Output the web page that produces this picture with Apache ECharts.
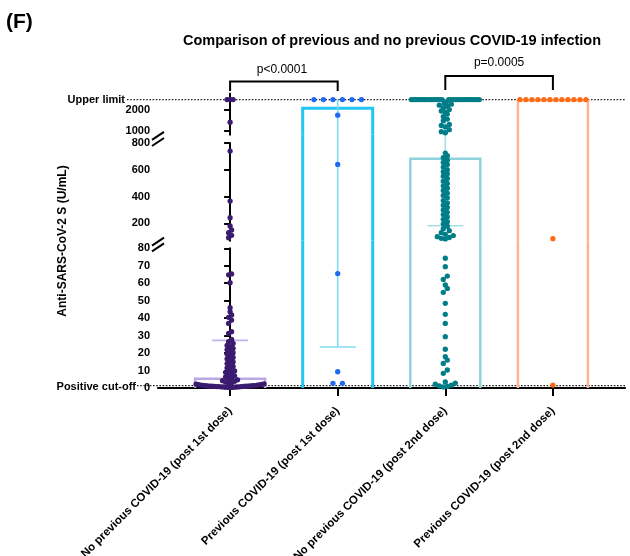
<!DOCTYPE html>
<html><head><meta charset="utf-8">
<script src="https://cdn.jsdelivr.net/npm/echarts@6/dist/echarts.min.js"></script>
<style>html,body{margin:0;padding:0;background:#fff}#c{width:630px;height:556px}</style>
</head><body><div id="c"></div>
<script>
// ---------------- DATA ----------------
const categories = [
  'No previous COVID-19 (post 1st dose)',
  'Previous COVID-19 (post 1st dose)',
  'No previous COVID-19 (post 2nd dose)',
  'Previous COVID-19 (post 2nd dose)'
];
const barValues = [5.3, 2082, 683, 2460];
const errLow = [0, 23.5, 182, null];
const errHigh = [27.3, 2500, 2500, null];
const upperLimit = 2500;
const positiveCutoff = 0.8;
const pValues = ['p<0.0001', 'p=0.0005'];
const bottomTicks = [0, 10, 20, 30, 40, 50, 60, 70, 80];
const middleTicks = [200, 400, 600, 800];
const topTicks = [1000, 2000];

const noPrev1st = [2500, 2500, 2500, 1406,
  740, 366, 242, 180, 150, 130, 110, 92,
  65.3, 64.8, 60.3, 46.0, 43.7, 41.8, 40.5, 38.9, 37.0, 32.2, 31.3, 27.8, 26.6, 25.5, 24.4, 23.6, 22.7, 21.9,
  21.0, 20.2, 19.3, 18.4, 17.5, 16.6, 15.8, 14.9, 14.0, 13.1, 12.3, 11.5, 10.6, 9.8, 9.0, 8.3, 7.6, 7.0, 6.4,
  5.8, 5.2, 4.7, 4.2, 3.8, 3.4, 3.0, 2.7, 2.4, 2.2, 2.0, 1.9, 1.8, 1.7, 1.6, 1.5, 1.4, 1.3, 1.3, 1.2, 1.2,
  1.1, 1.1, 1.0, 1.0, 0.9, 0.9, 0.8, 0.8, 0.8, 0.7, 0.7, 0.6, 0.6, 0.5, 0.5, 0.4, 0.4, 0.3];
const prev1st = [2500, 2500, 2500, 2500, 2500, 2500, 1750, 640, 65.5, 9.3, 2.7, 2.7];
const noPrev2nd = [
  2500, 2500, 2500, 2500, 2500, 2500, 2500, 2500, 2500, 2500, 2500, 2500, 2500, 2500, 2500,
  2500, 2500, 2500, 2500, 2500, 2500, 2500, 2500, 2500, 2500, 2500, 2500, 2500, 2500, 2500,
  2380, 2330, 2280, 2230, 2180, 2100, 2020, 1950, 1880, 1800, 1680, 1560, 1480, 1300, 1250, 1180, 1050, 950, 900,
  725, 705, 690, 672, 655, 640, 620, 600, 585, 570, 552, 535, 515, 498, 480, 462, 445, 425, 408, 390, 370,
  352, 335, 318, 300, 282, 265, 248, 230, 212, 195, 178, 160, 145, 130, 118, 108, 100, 94, 88, 83,
  74.3, 69.5, 64.1, 62.2, 59.0, 57.0, 54.8, 48.5, 42.2, 37.0, 29.4, 22.2, 17.9, 16.0, 14.1, 10.3, 8.4,
  3.5, 2.8, 2.2, 1.6, 1.2, 0.9, 0.6];
const prev2nd = [2500, 2500, 2500, 2500, 2500, 2500, 2500, 2500, 2500, 2500, 2500, 2500, 85, 1.7];
const groups = [noPrev1st, prev1st, noPrev2nd, prev2nd];

// ---------------- STYLE / LAYOUT ----------------
const FONT = '"Liberation Sans", Arial, Helvetica, sans-serif';
const dotColors = ['#3b1b6f', '#1f6af5', '#007d87', '#ff6a13'];
const barColors = ['#b9a8e4', '#21c6f2', '#8fd4dd', '#ffb294'];
const errColors = ['#c3b3ec', '#7fdcf5', '#a6dfe6', '#ffc2a8'];
const dotGap = [3, 9.5, 4, 6];
const segRange = [[0, 80], [70, 800], [800, 2800]];
const gridBox = [{top: 248.3, height: 139.7}, {top: 143, height: 97.7}, {top: 93.4, height: 41.4}];
const segTicks = [bottomTicks, middleTicks, topTicks];
const X_MIN = -0.67, X_MAX = 3.67;
const BAR_HALF = 35, CAP_HALF = 18, MAX_SPREAD = 68, ROW_H = 4;

function segOf(v) { return v <= 80 ? 0 : (v <= 800 ? 1 : 2); }
function nextBottomPx(s) { return gridBox[s + 1].top + gridBox[s + 1].height; }

const chart = echarts.init(document.getElementById('c'));

const grids = gridBox.map(b => ({left: 158, right: 5, top: b.top, height: b.height, containLabel: false, outerBoundsMode: 'none'}));
const xAxes = [0, 1, 2].map(s => ({
  type: 'value', gridIndex: s, min: X_MIN, max: X_MAX, show: s === 0,
  axisLine: {show: true, onZero: false, lineStyle: {color: '#000', width: 2.2}},
  axisTick: {show: true, customValues: [0, 1, 2, 3], length: 8, lineStyle: {color: '#000', width: 2}},
  axisLabel: {customValues: [0, 1, 2, 3], formatter: v => categories[Math.round(v)] || '', rotate: 45,
    fontWeight: 'bold', fontSize: 11.5, color: '#000', margin: 21, fontFamily: FONT},
  splitLine: {show: false}
}));
const yAxes = [0, 1, 2].map(s => ({
  type: 'value', gridIndex: s, min: segRange[s][0], max: segRange[s][1],
  axisLine: {show: true, lineStyle: {color: '#000', width: 2}},
  axisTick: {show: true, customValues: segTicks[s], length: 6, lineStyle: {color: '#000', width: 2}},
  axisLabel: {customValues: segTicks[s], formatter: v => String(v), fontWeight: 'bold', fontSize: 11, color: '#000', margin: 8, fontFamily: FONT},
  splitLine: {show: false}
}));

function barRender(s) {
  return function (params, api) {
    const k = api.value(0), m = api.value(1);
    const lo = segRange[s][0], hi = segRange[s][1];
    if (m <= lo && s > 0) return null;
    const pB = api.coord([k, lo]);
    const pT = api.coord([k, Math.min(m, hi)]);
    const x = pB[0];
    const st = {stroke: barColors[k], lineWidth: k === 1 ? 3 : 2.5, fill: null};
    if (m <= hi) {
      return {type: 'polyline', shape: {points: [[x - BAR_HALF, pB[1]], [x - BAR_HALF, pT[1]], [x + BAR_HALF, pT[1]], [x + BAR_HALF, pB[1]]]}, style: st};
    }
    const yTop = s < 2 ? nextBottomPx(s) : pT[1];
    return {type: 'group', children: [
      {type: 'line', shape: {x1: x - BAR_HALF, y1: pB[1], x2: x - BAR_HALF, y2: yTop}, style: st},
      {type: 'line', shape: {x1: x + BAR_HALF, y1: pB[1], x2: x + BAR_HALF, y2: yTop}, style: st}
    ]};
  };
}
function errRender(s) {
  return function (params, api) {
    const k = api.value(0), low = api.value(1), high = api.value(2);
    if (isNaN(low) || isNaN(high)) return null;
    const lo = segRange[s][0], hi = segRange[s][1];
    const a = Math.max(low, lo), b = Math.min(high, hi);
    if (a >= b) return null;
    const pA = api.coord([k, a]), pB = api.coord([k, b]);
    const x = pA[0];
    let yB = pB[1];
    if (high > hi && s < 2) yB = nextBottomPx(s);
    const st = {stroke: errColors[k], lineWidth: 1.6};
    const ch = [{type: 'line', shape: {x1: x, y1: pA[1], x2: x, y2: yB}, style: st}];
    if (low >= lo && low <= hi && low > 0) ch.push({type: 'line', shape: {x1: x - CAP_HALF, y1: pA[1], x2: x + CAP_HALF, y2: pA[1]}, style: st});
    if (high >= lo && high <= hi && high < upperLimit) ch.push({type: 'line', shape: {x1: x - CAP_HALF, y1: pB[1], x2: x + CAP_HALF, y2: pB[1]}, style: st});
    return {type: 'group', children: ch};
  };
}

const baseSeries = [];
[0, 1, 2].forEach(s => {
  baseSeries.push({type: 'custom', xAxisIndex: s, yAxisIndex: s, silent: true, z: 2,
    data: barValues.map((v, k) => [k, v]), renderItem: barRender(s)});
  baseSeries.push({type: 'custom', xAxisIndex: s, yAxisIndex: s, silent: true, z: 3,
    data: barValues.map((v, k) => [k, errLow[k] === null ? '-' : errLow[k], errHigh[k] === null ? '-' : errHigh[k]]),
    renderItem: errRender(s)});
});

chart.setOption({animation: false, grid: grids, xAxis: xAxes, yAxis: yAxes, series: baseSeries});

// ---- beeswarm layout computed from pixel positions given by the axes ----
const pxPerUnit = chart.convertToPixel({xAxisIndex: 0}, 1) - chart.convertToPixel({xAxisIndex: 0}, 0);
function swarm(values, k) {
  const out = [[], [], []];
  const pts = values.map(v => { const s = segOf(v); return {v, s, py: chart.convertToPixel({yAxisIndex: s}, v)}; });
  [0, 1, 2].forEach(s => {
    const arr = pts.filter(p => p.s === s).sort((a, b) => b.py - a.py);
    let i = 0;
    while (i < arr.length) {
      let j = i;
      while (j + 1 < arr.length && arr[i].py - arr[j + 1].py < ROW_H) j++;
      const n = j - i + 1;
      const g = n > 1 ? Math.min(dotGap[k], MAX_SPREAD / (n - 1)) : 0;
      const slots = [];
      for (let t = 0; t < n; t++) slots.push(t);
      const mid = (n - 1) / 2;
      slots.sort((a, b) => Math.abs(a - mid) - Math.abs(b - mid) || a - b);
      for (let t = 0; t < n; t++) {
        const off = (slots[t] - mid) * g;
        out[s].push([k + off / pxPerUnit, arr[i + t].v]);
      }
      i = j + 1;
    }
  });
  return out;
}
const scatterSeries = [];
groups.forEach((vals, k) => {
  const sw = swarm(vals, k);
  [0, 1, 2].forEach(s => {
    scatterSeries.push({type: 'scatter', xAxisIndex: s, yAxisIndex: s, z: 5, symbolSize: 5.3, silent: true,
      clip: false, itemStyle: {color: dotColors[k], opacity: 1}, data: sw[s]});
  });
});

// ---- annotations positioned from the axes ----
const yUL = chart.convertToPixel({yAxisIndex: 2}, upperLimit);
const yCut = chart.convertToPixel({yAxisIndex: 0}, positiveCutoff);
const cx = [0, 1, 2, 3].map(k => chart.convertToPixel({xAxisIndex: 0}, k));
const axisX = chart.convertToPixel({xAxisIndex: 0}, X_MIN);
const rightX = chart.convertToPixel({xAxisIndex: 0}, X_MAX);
const dotted = {stroke: '#222', lineWidth: 1.2, lineDash: [1.6, 1.6]};
const blk = {stroke: '#000', lineWidth: 2, fill: null};
const txt = (o) => Object.assign({fill: '#000', fontFamily: FONT, fontWeight: 'bold', fontSize: 11}, o);
const b1 = gridBox[2].top + gridBox[2].height, b2 = gridBox[1].top;
const b3 = gridBox[1].top + gridBox[1].height, b4 = gridBox[0].top;
const slash = (yc) => ({type: 'line', z: 20, shape: {x1: axisX - 6, y1: yc + 4, x2: axisX + 6, y2: yc - 4}, style: {stroke: '#000', lineWidth: 2}});

const graphics = [
  {type: 'text', x: 6, y: 22, style: txt({text: '(F)', fontSize: 21, verticalAlign: 'middle'})},
  {type: 'text', x: 392, y: 41, style: txt({text: 'Comparison of previous and no previous COVID-19 infection', fontSize: 14.5, align: 'center', verticalAlign: 'middle'})},
  {type: 'text', x: 63, y: 241, rotation: Math.PI / 2, style: txt({text: 'Anti-SARS-CoV-2 S (U/mL)', fontSize: 12, align: 'center', verticalAlign: 'middle'})},
  {type: 'line', z: 1, shape: {x1: 127, y1: yUL, x2: rightX, y2: yUL}, style: dotted},
  {type: 'line', z: 1, shape: {x1: 137, y1: yCut - 1, x2: rightX, y2: yCut - 1}, style: dotted},
  {type: 'text', x: 125, y: yUL, style: txt({text: 'Upper limit', align: 'right', verticalAlign: 'middle'})},
  {type: 'text', x: 136, y: yCut, style: txt({text: 'Positive cut-off', align: 'right', verticalAlign: 'middle'})},
  {type: 'polyline', shape: {points: [[cx[0], 91], [cx[0], 81.5], [cx[1], 81.5], [cx[1], 91]]}, style: blk},
  {type: 'polyline', shape: {points: [[cx[2], 90], [cx[2], 76], [cx[3], 76], [cx[3], 90]]}, style: blk},
  {type: 'text', x: (cx[0] + cx[1]) / 2 - 2, y: 70, style: txt({text: pValues[0], fontWeight: 'normal', fontSize: 12, align: 'center', verticalAlign: 'middle'})},
  {type: 'text', x: (cx[2] + cx[3]) / 2, y: 63, style: txt({text: pValues[1], fontWeight: 'normal', fontSize: 12, align: 'center', verticalAlign: 'middle'})},
  slash(b1 + 1), slash(b2 - 1), slash(b3 + 1), slash(b4 - 1)
];

chart.setOption({series: baseSeries.concat(scatterSeries), graphic: graphics});
</script></body></html>
